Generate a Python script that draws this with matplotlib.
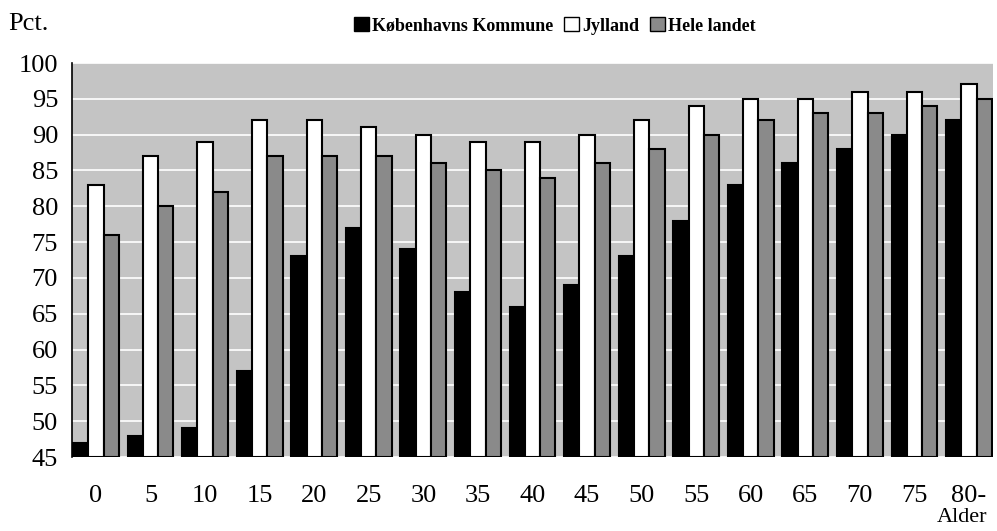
import numpy as np
import matplotlib.pyplot as plt
from matplotlib.patches import Patch

ages = ["0", "5", "10", "15", "20", "25", "30", "35", "40", "45",
        "50", "55", "60", "65", "70", "75", "80-"]
kbh = [47, 48, 49, 57, 73, 77, 74, 68, 66, 69, 73, 78, 83, 86, 88, 90, 92]
jylland = [83, 87, 89, 92, 92, 91, 90, 89, 89, 90, 92, 94, 95, 95, 96, 96, 97]
hele = [76, 80, 82, 87, 87, 87, 86, 85, 84, 86, 88, 90, 92, 93, 93, 94, 95]
yticks = [45, 50, 55, 60, 65, 70, 75, 80, 85, 90, 95, 100]

plt.rcParams['font.family'] = ['Liberation Serif', 'DejaVu Serif']

fig = plt.figure(figsize=(9.97, 5.31), dpi=100)
ax = fig.add_axes([72/997, 1-457/531, (993-72)/997, (457-63)/531])

x = np.arange(len(ages))
w = 0.28
ax.set_facecolor("#c4c4c4")
ax.bar(x - w, [v - 45 for v in kbh], w, bottom=45, color="black", edgecolor="black", linewidth=1.5, zorder=3)
ax.bar(x, [v - 45 for v in jylland], w, bottom=45, color="white", edgecolor="black", linewidth=1.5, zorder=3)
ax.bar(x + w, [v - 45 for v in hele], w, bottom=45, color="#8a8a8a", edgecolor="black", linewidth=1.5, zorder=3)

ax.set_ylim(45, 100)
ax.set_xlim(-0.44, len(ages) - 1 + 0.44)
ax.set_yticks(yticks)
ax.set_yticklabels([str(t) for t in yticks], fontsize=19)
ax.set_xticks(x)
ax.set_xticklabels(ages, fontsize=19)
ax.tick_params(axis="both", length=0)
ax.tick_params(axis="x", pad=20)
ax.tick_params(axis="y", pad=10)
ax.yaxis.grid(True, color="white", linewidth=1.2, zorder=1)
ax.set_axisbelow(True)
for s in ["top", "right", "bottom"]:
    ax.spines[s].set_visible(False)
ax.spines["left"].set_linewidth(1.2)

fig.text(8/997, 1-24/531, "Pct.", fontsize=19, va="center", ha="left")
fig.text(962/997, 1-508/531, "Alder", fontsize=16, va="top", ha="center")

handles = [Patch(facecolor="black", edgecolor="black"),
           Patch(facecolor="white", edgecolor="black"),
           Patch(facecolor="#8a8a8a", edgecolor="black")]
fig.legend(handles, ["Københavns Kommune", "Jylland", "Hele landet"],
           loc="center", bbox_to_anchor=(555/997, 1-26/531), ncol=3, frameon=False,
           prop={"size": 13, "weight": "bold"}, handlelength=0.8, handleheight=0.8,
           handletextpad=0.2, columnspacing=0.6)

fig.savefig("out.png", dpi=100)
